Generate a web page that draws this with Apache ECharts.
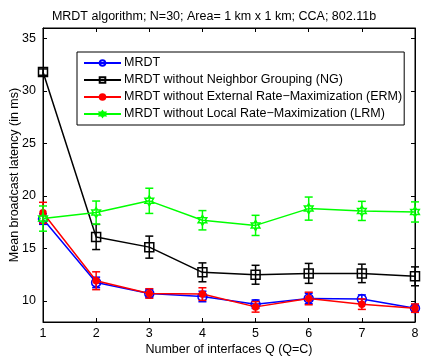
<!DOCTYPE html>
<html>
<head>
<meta charset="utf-8">
<script src="https://cdn.jsdelivr.net/npm/echarts@6/dist/echarts.min.js"></script>
<style>html,body{margin:0;padding:0;background:#fff}#c{width:428px;height:359px}</style>
</head>
<body>
<div id="c"></div>
<script>
var xValues = [1, 2, 3, 4, 5, 6, 7, 8];
var yTicks = [10, 15, 20, 25, 30, 35];
var mrdt      = [17.8, 11.77, 10.72, 10.43, 9.7, 10.24, 10.18, 9.32];
var mrdtErr   = [0.5, 0.5, 0.4, 0.5, 0.4, 0.5, 0.4, 0.3];
var noNG      = [31.8, 16.1, 15.13, 12.73, 12.5, 12.63, 12.63, 12.35];
var noNGErr   = [0.3, 1.2, 1.05, 0.9, 0.9, 0.95, 0.88, 0.9];
var noERM     = [18.4, 11.93, 10.72, 10.66, 9.44, 10.24, 9.7, 9.32];
var noERMErr  = [1.0, 0.85, 0.45, 0.6, 0.5, 0.6, 0.5, 0.4];
var noLRM     = [17.85, 18.42, 19.54, 17.69, 17.2, 18.8, 18.58, 18.48];
var noLRMErr  = [1.2, 1.1, 1.2, 0.92, 0.96, 1.1, 0.91, 0.96];
var seriesNames = ['MRDT', 'MRDT without Neighbor Grouping (NG)', 'MRDT without External Rate\u2212Maximization (ERM)', 'MRDT without Local Rate\u2212Maximization (LRM)'];
var titleText = 'MRDT algorithm; N=30; Area= 1 km x 1 km; CCA; 802.11b';
var xName = 'Number of interfaces Q (Q=C)';
var yName = 'Mean broadcast latency (in ms)';

var FONT = '"Liberation Sans", Arial, Helvetica, sans-serif';
var FS = 12.5;
var hexagram = 'path://M100,0 L128.87,50 L186.6,50 L157.7,100 L186.6,150 L128.87,150 L100,200 L71.13,150 L13.4,150 L42.3,100 L13.4,50 L71.13,50 Z';

function pairs(vals) { return xValues.map(function (x, i) { return [x, vals[i]]; }); }
function errData(vals, errs) { return xValues.map(function (x, i) { return [x, vals[i] - errs[i], vals[i] + errs[i]]; }); }

function errSeries(vals, errs, color, z) {
  return {
    type: 'custom', z: z, silent: true,
    data: errData(vals, errs),
    encode: { x: 0, y: [1, 2] },
    renderItem: function (params, api) {
      var x = api.value(0);
      var lo = api.coord([x, api.value(1)]);
      var hi = api.coord([x, api.value(2)]);
      var w = 4;
      var st = { stroke: color, lineWidth: 1.5 };
      return { type: 'group', children: [
        { type: 'line', shape: { x1: lo[0], y1: lo[1], x2: hi[0], y2: hi[1] }, style: st },
        { type: 'line', shape: { x1: lo[0] - w, y1: lo[1], x2: lo[0] + w, y2: lo[1] }, style: st },
        { type: 'line', shape: { x1: hi[0] - w, y1: hi[1], x2: hi[0] + w, y2: hi[1] }, style: st }
      ]};
    }
  };
}

function lineSeries(name, vals, color, symbol, size, filled, z) {
  return {
    name: name, type: 'line', z: z,
    data: pairs(vals),
    symbol: symbol, symbolSize: size, symbolKeepAspect: true, showAllSymbol: true,
    lineStyle: { color: color, width: 1.5 },
    itemStyle: { color: filled ? color : 'rgba(0,0,0,0)', borderColor: color, borderWidth: 1.5 },
    emphasis: { disabled: true },
    animation: false
  };
}

var tickStyle = { show: true, inside: true, length: 4, lineStyle: { color: '#000' } };

var chart = echarts.init(document.getElementById('c'), null, { renderer: 'canvas' });
chart.setOption({
  animation: false,
  backgroundColor: '#fff',
  textStyle: { fontFamily: FONT },
  title: { text: titleText, left: 'center', top: 5,
    textStyle: { fontSize: FS, fontWeight: 'normal', color: '#000', fontFamily: FONT } },
  grid: { left: 43, right: 13, top: 28, bottom: 37, show: true, borderColor: '#000', borderWidth: 1,
    containLabel: false, outerBoundsMode: 'none' },
  legend: {
    data: seriesNames, orient: 'vertical', left: 77, top: 52,
    itemWidth: 37, itemHeight: 7, itemGap: 3,
    padding: [4, 2, 4, 6],
    borderColor: '#000', borderWidth: 1, backgroundColor: '#fff',
    textStyle: { fontSize: FS, color: '#000', fontFamily: FONT, padding: [0, 0, 0, -2], lineHeight: 14 },
    selectedMode: false
  },
  xAxis: [{
    type: 'value', min: 1, max: 8, interval: 1,
    name: xName, nameLocation: 'middle', nameGap: 21, nameMoveOverlap: false,
    nameTextStyle: { fontSize: FS, color: '#000', fontFamily: FONT },
    axisLine: { show: true, lineStyle: { color: '#000', width: 1 } },
    axisTick: tickStyle,
    axisLabel: { fontSize: FS, color: '#000', margin: 5, fontFamily: FONT },
    splitLine: { show: false }
  }, {
    type: 'value', min: 1, max: 8, interval: 1, position: 'top',
    axisLine: { show: true, lineStyle: { color: '#000' } },
    axisTick: tickStyle,
    axisLabel: { show: false }, splitLine: { show: false }
  }],
  yAxis: [{
    type: 'value', min: 8, max: 36,
    name: yName, nameLocation: 'middle', nameGap: 22, nameRotate: 90, nameMoveOverlap: false,
    nameTextStyle: { fontSize: FS, color: '#000', fontFamily: FONT },
    axisLine: { show: true, lineStyle: { color: '#000' } },
    axisTick: Object.assign({ customValues: yTicks }, tickStyle),
    axisLabel: { fontSize: FS, color: '#000', margin: 7, fontFamily: FONT, customValues: yTicks },
    splitLine: { show: false }
  }, {
    type: 'value', min: 8, max: 36, position: 'right',
    axisLine: { show: true, lineStyle: { color: '#000' } },
    axisTick: Object.assign({ customValues: yTicks }, tickStyle),
    axisLabel: { show: false, customValues: yTicks }, splitLine: { show: false }
  }],
  series: [
    lineSeries(seriesNames[0], mrdt, '#0000ff', 'circle', 9, false, 2),
    errSeries(mrdt, mrdtErr, '#0000ff', 2),
    lineSeries(seriesNames[1], noNG, '#000000', 'rect', 9, false, 3),
    errSeries(noNG, noNGErr, '#000000', 3),
    lineSeries(seriesNames[2], noERM, '#ff0000', 'circle', 6, true, 4),
    errSeries(noERM, noERMErr, '#ff0000', 4),
    lineSeries(seriesNames[3], noLRM, '#00ff00', hexagram, 10, false, 5),
    errSeries(noLRM, noLRMErr, '#00ff00', 5)
  ]
});
</script>
</body>
</html>
